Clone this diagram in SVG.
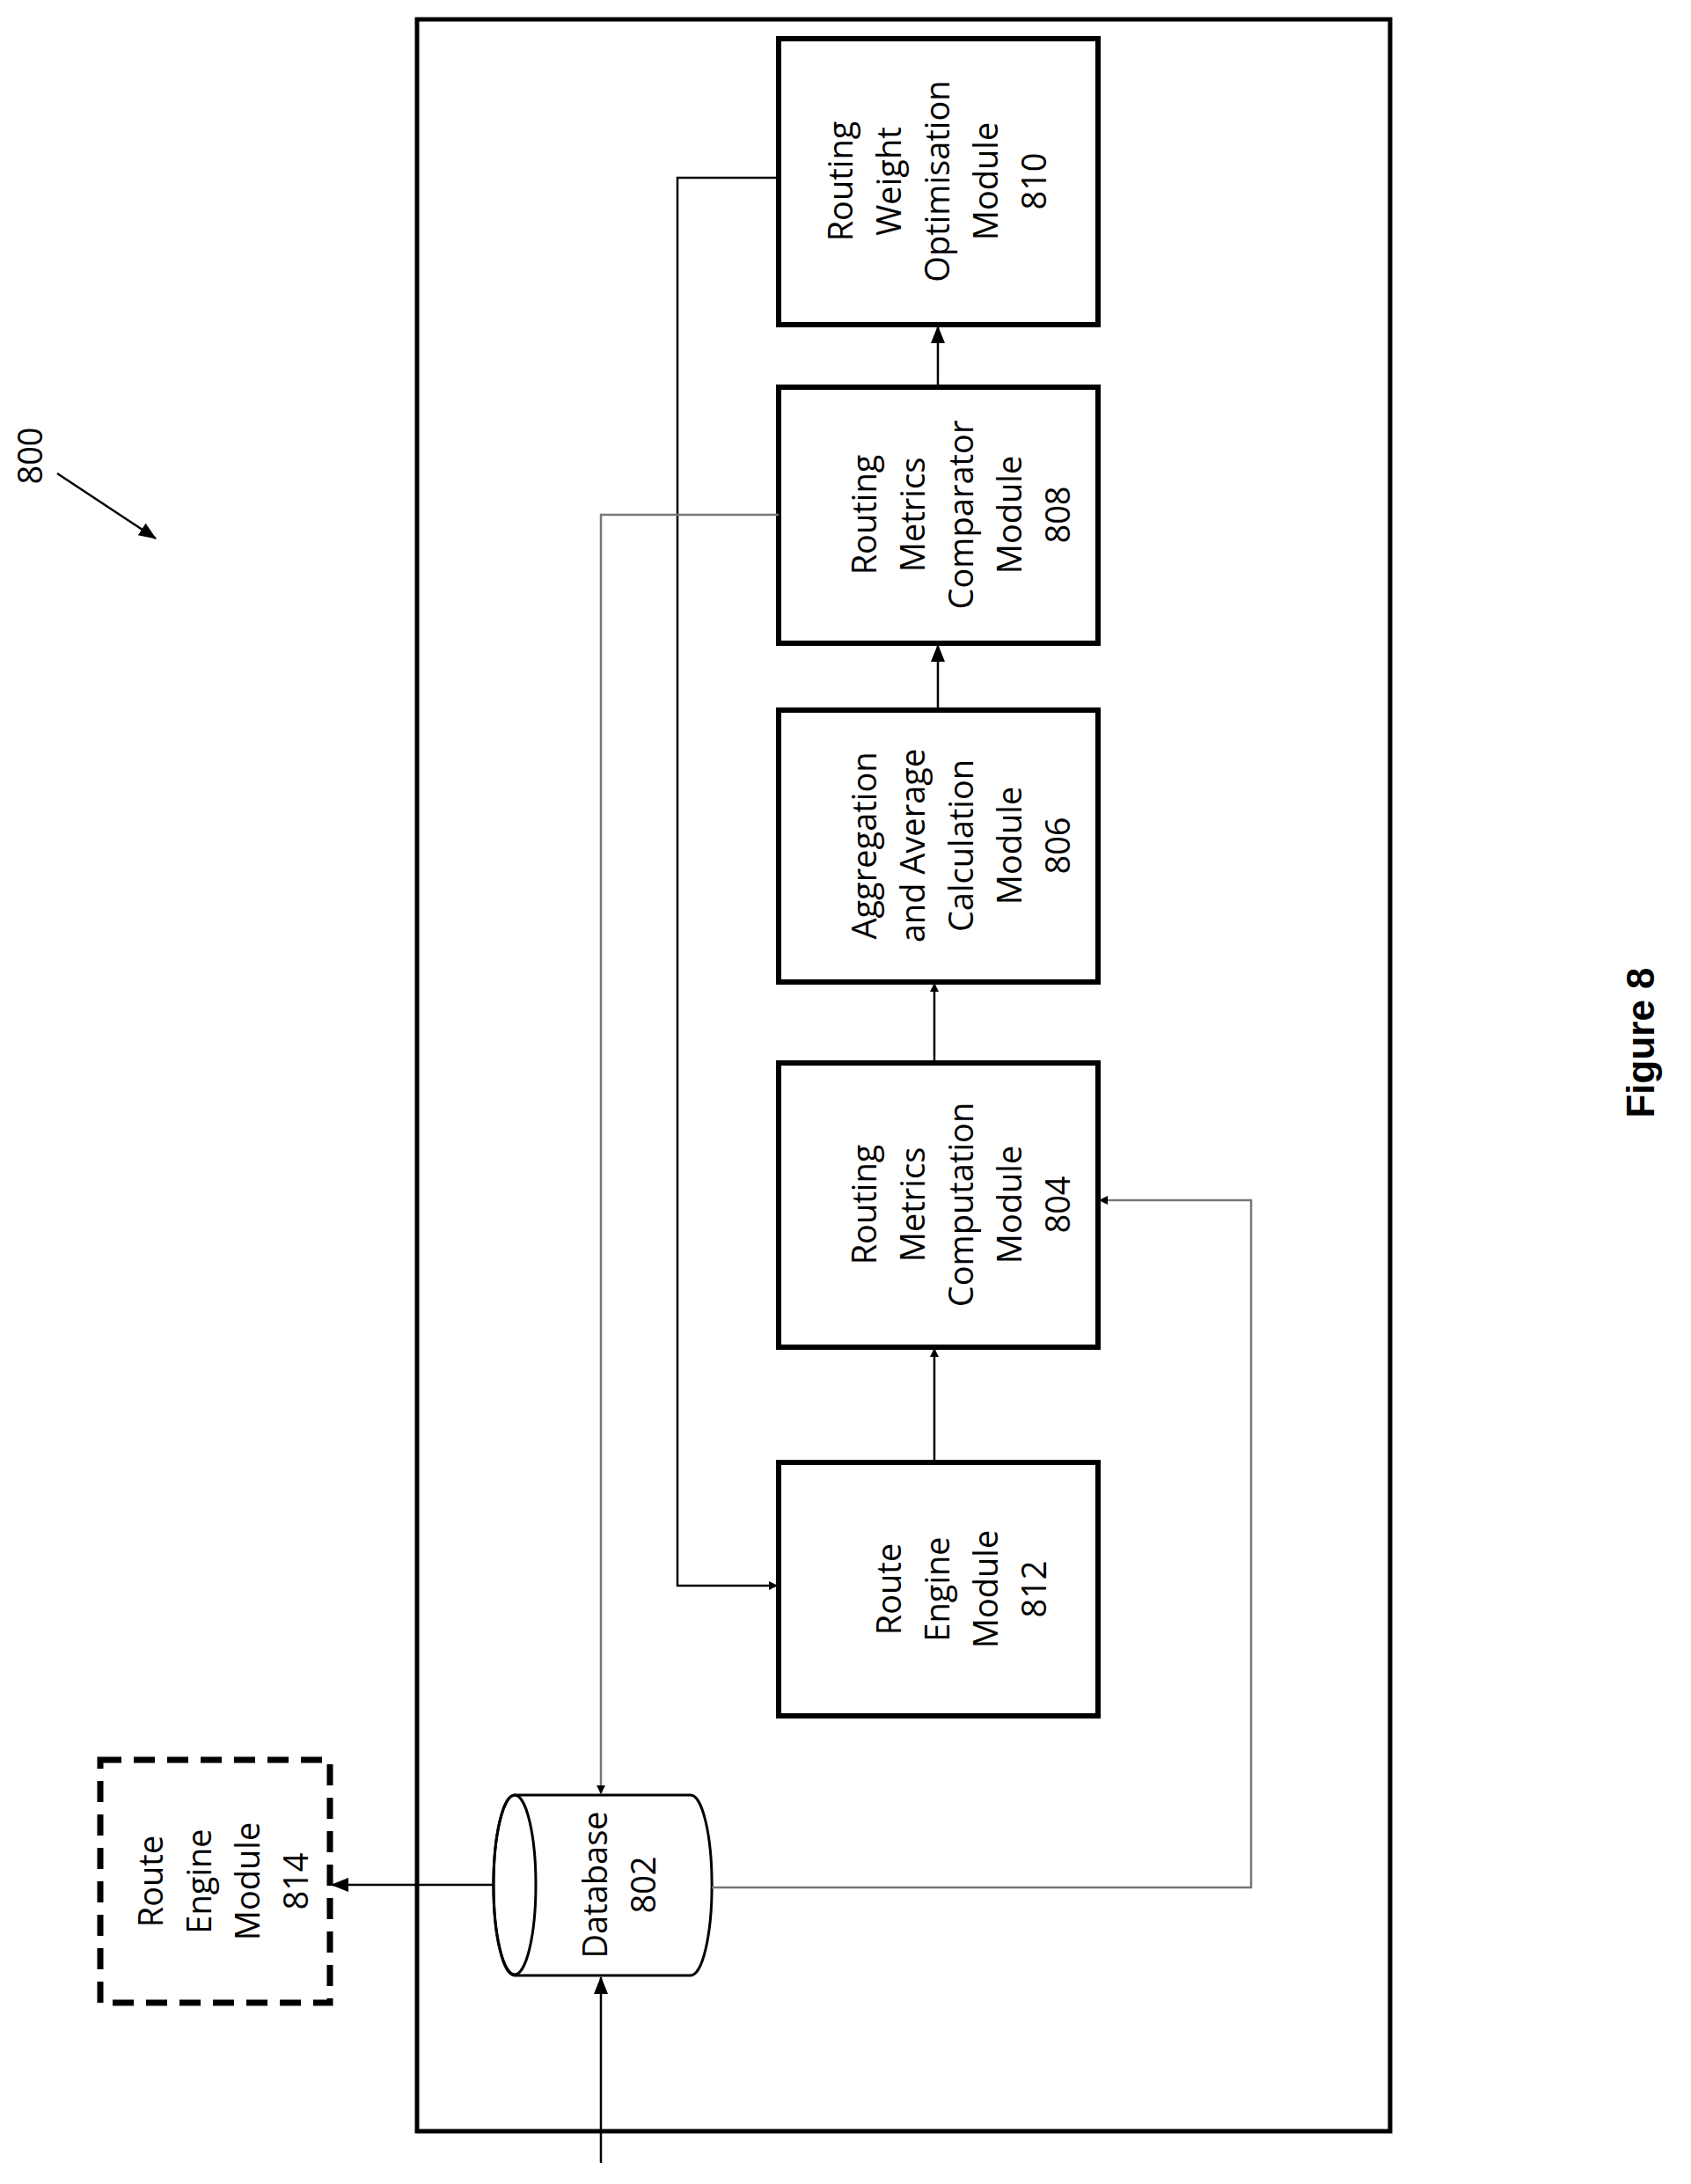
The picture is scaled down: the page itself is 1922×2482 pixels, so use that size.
<svg xmlns="http://www.w3.org/2000/svg" width="1922" height="2482" viewBox="0 0 1922 2482">
<style>
.box{fill:#fff;stroke:#000;stroke-width:6}
.t{font-family:"Open Sans","Liberation Sans",sans-serif;font-size:38px;fill:#000}
.c{fill:none;stroke:#000;stroke-width:2.5}
.g{fill:none;stroke:#777;stroke-width:2.5}
</style>
<defs>
<marker id="a" markerWidth="10" markerHeight="10" refX="9" refY="5" orient="auto" markerUnits="userSpaceOnUse" viewBox="0 0 10 10"><path d="M0,0L10,5L0,10z" fill="#000"/></marker>
<marker id="b" markerWidth="20" markerHeight="20" refX="19" refY="10" orient="auto" markerUnits="userSpaceOnUse" viewBox="0 0 20 20"><path d="M0,2L20,10L0,18z" fill="#000"/></marker>
</defs>
<rect x="474" y="22" width="1106" height="2400" fill="none" stroke="#000" stroke-width="5"/>
<g id="n810"><rect class="box" x="885" y="44" width="363" height="325"/>
<text class="t" text-anchor="middle" transform="translate(1066,206) rotate(-90)"><tspan x="0" y="-97">Routing</tspan><tspan x="0" y="-42">Weight</tspan><tspan x="0" y="13">Optimisation</tspan><tspan x="0" y="68">Module</tspan><tspan x="0" y="123">810</tspan></text></g>
<g id="n808"><rect class="box" x="885" y="440" width="363" height="291"/>
<text class="t" text-anchor="middle" transform="translate(1066,585) rotate(-90)"><tspan x="0" y="-70">Routing</tspan><tspan x="0" y="-15">Metrics</tspan><tspan x="0" y="40">Comparator</tspan><tspan x="0" y="95">Module</tspan><tspan x="0" y="150">808</tspan></text></g>
<g id="n806"><rect class="box" x="885" y="807" width="363" height="309"/>
<text class="t" text-anchor="middle" transform="translate(1066,961) rotate(-90)"><tspan x="0" y="-70">Aggregation</tspan><tspan x="0" y="-15">and Average</tspan><tspan x="0" y="40">Calculation</tspan><tspan x="0" y="95">Module</tspan><tspan x="0" y="150">806</tspan></text></g>
<g id="n804"><rect class="box" x="885" y="1208" width="363" height="323"/>
<text class="t" text-anchor="middle" transform="translate(1066,1369) rotate(-90)"><tspan x="0" y="-70">Routing</tspan><tspan x="0" y="-15">Metrics</tspan><tspan x="0" y="40">Computation</tspan><tspan x="0" y="95">Module</tspan><tspan x="0" y="150">804</tspan></text></g>
<g id="n812"><rect class="box" x="885" y="1662" width="363" height="288"/>
<text class="t" text-anchor="middle" transform="translate(1066,1806) rotate(-90)"><tspan x="0" y="-42">Route</tspan><tspan x="0" y="13">Engine</tspan><tspan x="0" y="68">Module</tspan><tspan x="0" y="123">812</tspan></text></g>
<g id="n802"><path d="M585,2040 L785,2040 A24,102 0 0 1 785,2245 L585,2245 A24,102 0 0 1 585,2040 Z" fill="#fff" stroke="#000" stroke-width="3"/>
<ellipse cx="585" cy="2142" rx="24" ry="102" fill="none" stroke="#000" stroke-width="3"/>
<text class="t" text-anchor="middle" transform="translate(700,2142) rotate(-90)"><tspan x="0" y="-10">Database</tspan><tspan x="0" y="45">802</tspan></text></g>
<g id="n814"><rect x="114" y="2000" width="261" height="276" fill="none" stroke="#000" stroke-width="7" stroke-dasharray="24,14"/>
<text class="t" text-anchor="middle" transform="translate(245,2138) rotate(-90)"><tspan x="0" y="-60">Route</tspan><tspan x="0" y="-5">Engine</tspan><tspan x="0" y="50">Module</tspan><tspan x="0" y="105">814</tspan></text></g>
<g id="connectors">
<path class="c" d="M1062,1662 L1062,1533" marker-end="url(#a)"/>
<path class="c" d="M1062,1208 L1062,1118" marker-end="url(#a)"/>
<path class="c" d="M1066,807 L1066,733" stroke-width="4" marker-end="url(#b)"/>
<path class="c" d="M1066,440 L1066,371" stroke-width="4" marker-end="url(#b)"/>
<path class="c" d="M885,202 L770,202 L770,1802 L883,1802" marker-end="url(#a)"/>
<path class="g" d="M885,585 L683,585 L683,2038" marker-end="url(#a)"/>
<path class="g" d="M809,2145 L1422,2145 L1422,1364 L1250,1364" marker-end="url(#a)"/>
<path class="c" d="M683,2458 L683,2247" stroke-width="3" marker-end="url(#b)"/>
<path class="c" d="M561,2142 L377,2142" stroke-width="3" marker-end="url(#b)"/>
</g>
<g id="label800">
<text class="t" font-size="34" text-anchor="middle" transform="translate(48,518) rotate(-90)">800</text>
<path class="c" d="M65,538 L177,612" marker-end="url(#b)"/>
</g>
<text font-family="'Liberation Sans',Arial,sans-serif" font-weight="bold" font-size="44" text-anchor="middle" transform="translate(1880,1185) rotate(-90)">Figure 8</text>
</svg>
